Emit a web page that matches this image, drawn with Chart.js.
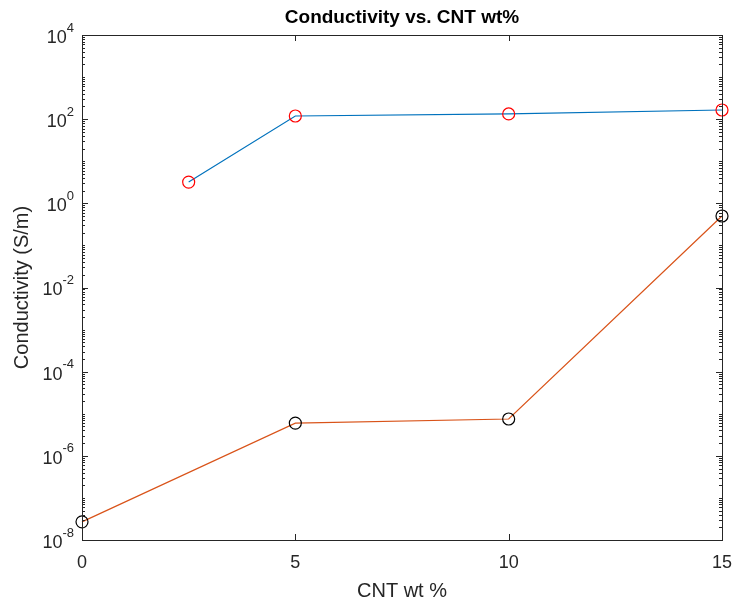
<!DOCTYPE html>
<html>
<head>
<meta charset="utf-8">
<title>Conductivity vs. CNT wt%</title>
<script src="https://cdn.jsdelivr.net/npm/chart.js"></script>
<style>
    html, body { margin: 0; padding: 0; background: #fff; }
    #chart-container { width: 735px; height: 603px; }
</style>
</head>
<body>
<div id="chart-container">
    <canvas id="conductivityChart"></canvas>
</div>

<script>
    // data
    const wtUpper = [2.5, 5, 10, 15];
    const condUpper = [3.2, 119, 133, 165];
    const wtLower = [0, 5, 10, 15];
    const condLower = [2.7e-8, 6.0e-6, 7.5e-6, 0.5];
    const xTickValues = [0, 5, 10, 15];
    const yTickExponents = [-8, -6, -4, -2, 0, 2, 4];

    const axisColor = '#262626';
    const fontFamily = "'Liberation Sans', Arial, Helvetica, sans-serif";
    Chart.defaults.font.family = fontFamily;

    // MATLAB-like box, inward ticks, 10^n labels and title
    const matlabAxes = {
        id: 'matlabAxes',
        afterDraw(chart) {
            const ctx = chart.ctx;
            const a = chart.chartArea;
            const x = chart.scales.x;
            const y = chart.scales.y;
            ctx.save();
            ctx.strokeStyle = axisColor;
            ctx.lineWidth = 1;
            ctx.strokeRect(a.left + 0.5, a.top + 0.5, a.right - a.left, a.bottom - a.top);

            ctx.beginPath();
            // y ticks (major labelled + log minor)
            for (let n = -8; n < 4; n++) {
                for (let k = 1; k <= 9; k++) {
                    const v = k * Math.pow(10, n);
                    const py = Math.round(y.getPixelForValue(v)) + 0.5;
                    const major = k === 1 && yTickExponents.includes(n);
                    const len = major ? 6 : 3;
                    ctx.moveTo(a.left, py); ctx.lineTo(a.left + len, py);
                    ctx.moveTo(a.right, py); ctx.lineTo(a.right - len, py);
                }
            }
            // x ticks
            xTickValues.forEach(v => {
                const px = Math.round(x.getPixelForValue(v)) + 0.5;
                ctx.moveTo(px, a.bottom); ctx.lineTo(px, a.bottom - 6);
                ctx.moveTo(px, a.top); ctx.lineTo(px, a.top + 6);
            });
            ctx.stroke();

            ctx.fillStyle = axisColor;
            ctx.textBaseline = 'middle';

            // x tick labels
            ctx.textAlign = 'center';
            ctx.font = '18px ' + fontFamily;
            xTickValues.forEach(v => {
                ctx.fillText(String(v), x.getPixelForValue(v), a.bottom + 23);
            });

            // y tick labels as 10 with superscript exponent
            ctx.textAlign = 'right';
            yTickExponents.forEach(e => {
                const py = y.getPixelForValue(Math.pow(10, e));
                const right = a.left - 8;
                ctx.font = '13px ' + fontFamily;
                const expText = String(e);
                const expW = ctx.measureText(expText).width;
                ctx.fillText(expText, right, py - 7);
                ctx.font = '18px ' + fontFamily;
                ctx.fillText('10', right - expW, py + 3);
            });

            // title
            ctx.fillStyle = '#000';
            ctx.textAlign = 'center';
            ctx.font = 'bold 19px ' + fontFamily;
            ctx.fillText('Conductivity vs. CNT wt%', (a.left + a.right) / 2, 18);
            ctx.restore();
        }
    };

    const ctx = document.getElementById('conductivityChart').getContext('2d');
    new Chart(ctx, {
        type: 'line',
        data: {
            datasets: [{
                data: wtUpper.map((w, i) => ({ x: w, y: condUpper[i] })),
                borderColor: '#0072BD',
                borderWidth: 1.2,
                pointRadius: 6,
                pointHoverRadius: 6,
                pointBorderWidth: 1.2,
                pointBorderColor: '#FF0000',
                pointBackgroundColor: 'rgba(0,0,0,0)',
                fill: false,
                clip: false
            }, {
                data: wtLower.map((w, i) => ({ x: w, y: condLower[i] })),
                borderColor: '#D95319',
                borderWidth: 1.2,
                pointRadius: 6,
                pointHoverRadius: 6,
                pointBorderWidth: 1.2,
                pointBorderColor: '#000000',
                pointBackgroundColor: 'rgba(0,0,0,0)',
                fill: false,
                clip: false
            }]
        },
        options: {
            responsive: true,
            maintainAspectRatio: false,
            animation: false,
            layout: {
                padding: { left: 0, right: 13, top: 35, bottom: 0 }
            },
            plugins: {
                legend: { display: false },
                tooltip: { enabled: false },
                title: { display: false }
            },
            scales: {
                x: {
                    type: 'linear',
                    min: 0,
                    max: 15,
                    grid: { display: false },
                    border: { display: false },
                    ticks: { display: false },
                    title: {
                        display: true,
                        text: 'CNT wt %',
                        color: axisColor,
                        font: { size: 20 },
                        padding: { top: 0, bottom: 0 }
                    },
                    afterFit: s => { s.height = 63; }
                },
                y: {
                    type: 'logarithmic',
                    min: 1e-8,
                    max: 1e4,
                    grid: { display: false },
                    border: { display: false },
                    ticks: { display: false },
                    title: {
                        display: true,
                        text: 'Conductivity (S/m)',
                        color: axisColor,
                        font: { size: 20 },
                        padding: { top: 10, bottom: 0 }
                    },
                    afterFit: s => { s.width = 82; }
                }
            }
        },
        plugins: [matlabAxes]
    });
</script>
</body>
</html>
